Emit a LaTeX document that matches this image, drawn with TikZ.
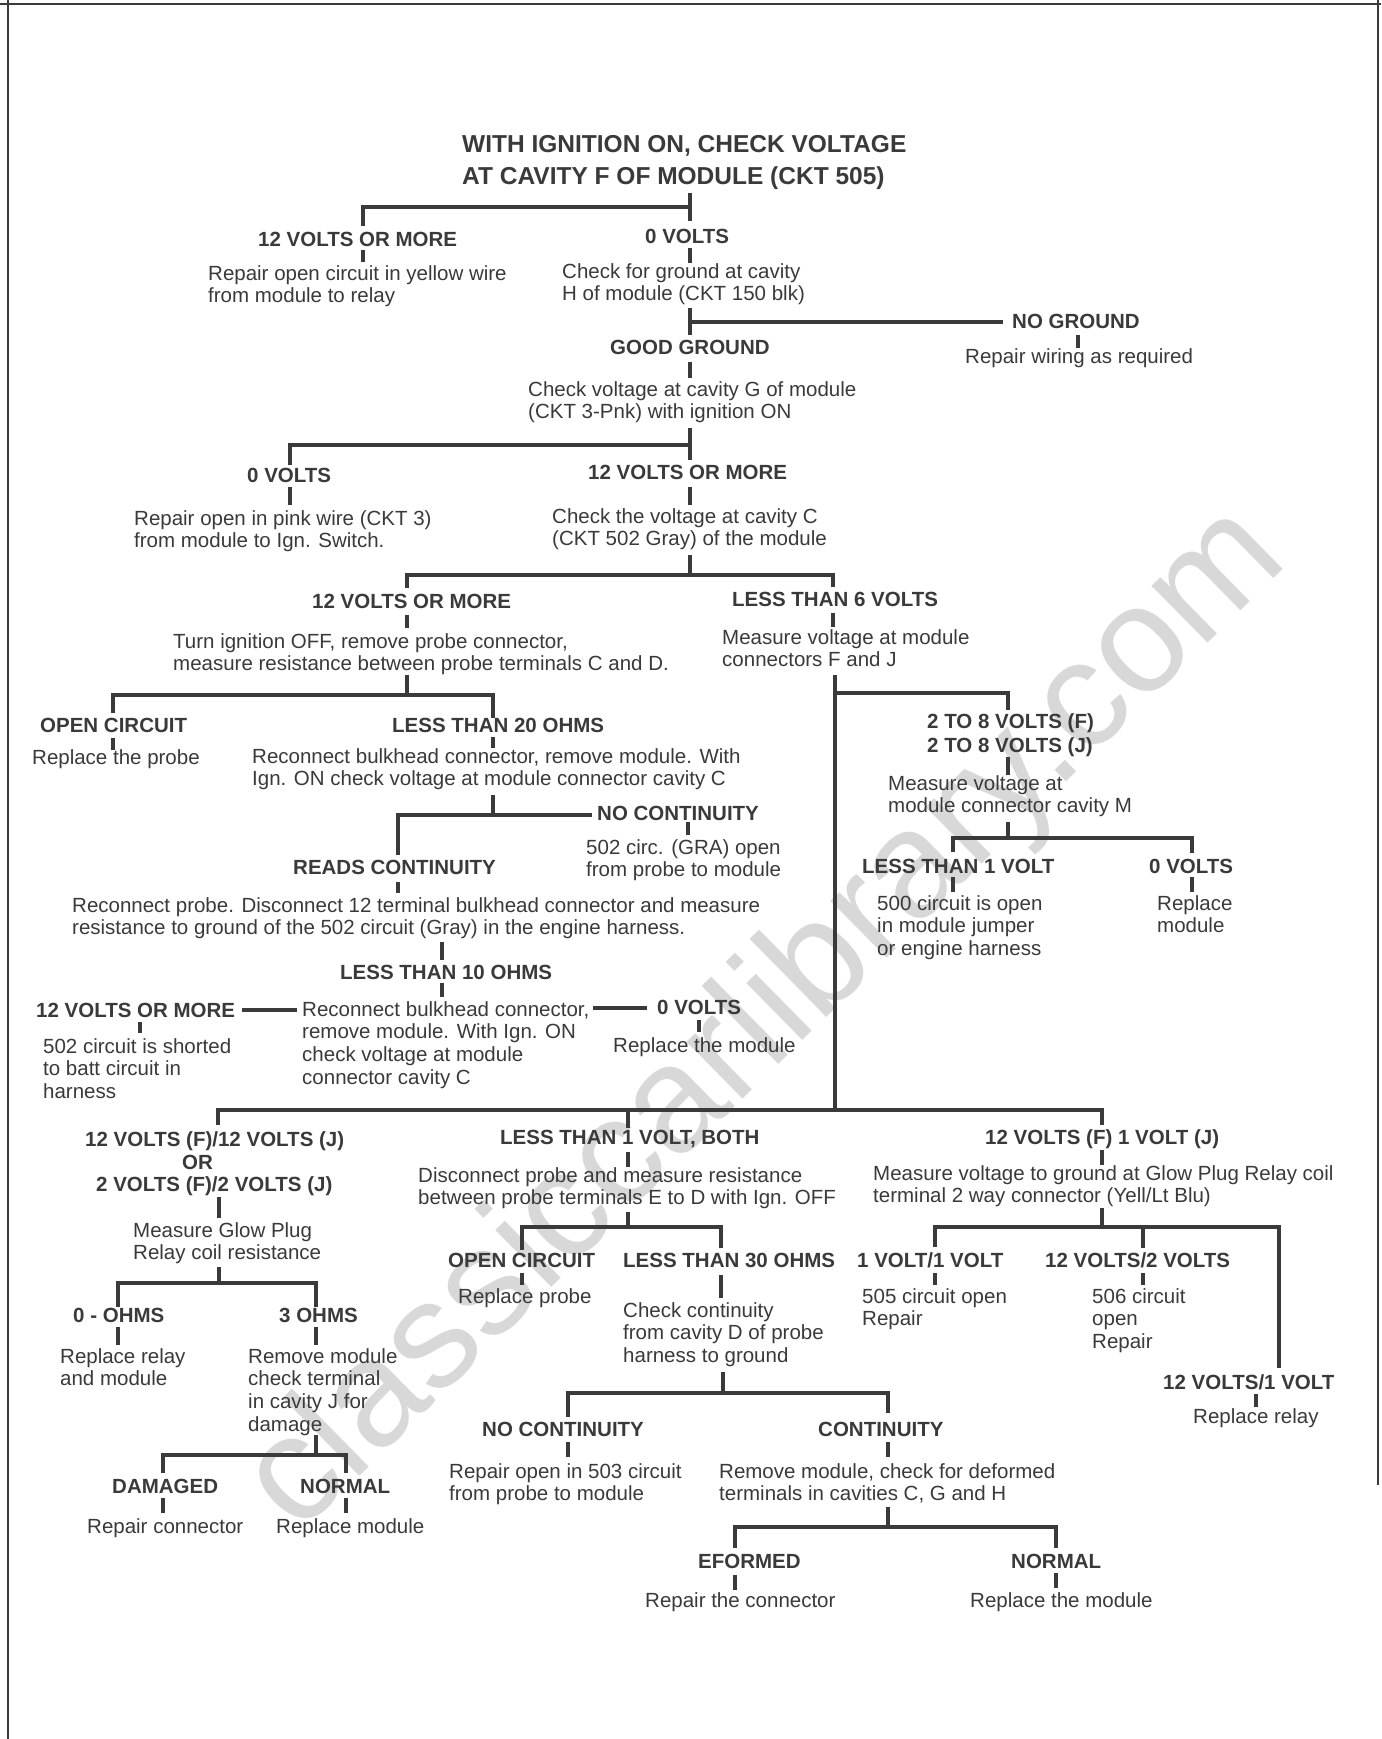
\documentclass[tikz,border=0pt]{standalone}
\usepackage{fontspec}
\setmainfont{Liberation Sans}
\definecolor{ink}{HTML}{3A3A3A}
\definecolor{wm}{HTML}{D8D8D8}
\newcommand\bodyf{\fontsize{20.5}{22.7}\selectfont}
\newcommand\lblf{\fontsize{20.5}{22.7}\selectfont\bfseries}
\newcommand\titf{\fontsize{24.5}{32}\selectfont\bfseries}
\begin{document}
\begin{tikzpicture}[x=1pt,y=-1pt,
  ln/.style={draw=ink, line width=3.4pt},
  bd/.style={draw=ink, line width=2.5pt},
  tx/.style={text=ink, font=\bodyf, align=left, inner sep=0pt, anchor=north west, yshift=15.89pt},
  lb/.style={text=ink, font=\lblf, inner sep=0pt, anchor=base west},
  tt/.style={text=ink, font=\titf, inner sep=0pt, anchor=base west}]
\useasboundingbox (0,0) rectangle (1381,1739);
\fill[white] (0,0) rectangle (1381,1739);
% watermark
\node[text=wm, rotate=44.5, inner sep=0pt, font=\fontsize{151}{151}\selectfont] (wmk) at (767,1021) {classiccarlibrary.com};
% border
\draw[bd] (8,0) -- (8,1739);
\draw[bd] (1378,0) -- (1378,1485);
\draw[bd] (0,4) -- (1381,4);
% title
\node[tt] (t1) at (462,153) {WITH IGNITION ON, CHECK VOLTAGE};
\node[tt] (t2) at (462,185) {AT CAVITY F OF MODULE (CKT 505)};
% labels
\node[lb] (L1) at (258,246) {12 VOLTS OR MORE};
\node[lb] (L2) at (645,243) {0 VOLTS};
\node[lb] (L3) at (1012,328) {NO GROUND};
\node[lb] (L4) at (610,354) {GOOD GROUND};
\node[lb] (L5) at (247,482) {0 VOLTS};
\node[lb] (L6) at (588,479) {12 VOLTS OR MORE};
\node[lb] (L7) at (312,608) {12 VOLTS OR MORE};
\node[lb] (L8) at (732,606) {LESS THAN 6 VOLTS};
\node[lb] (L9) at (40,732) {OPEN CIRCUIT};
\node[lb] (L10) at (392,732) {LESS THAN 20 OHMS};
\node[lb] (L11a) at (927,728) {2 TO 8 VOLTS (F)};
\node[lb] (L11b) at (927,752) {2 TO 8 VOLTS (J)};
\node[lb] (L12) at (597,820) {NO CONTINUITY};
\node[lb] (L13) at (293,874) {READS CONTINUITY};
\node[lb] (L14) at (862,873) {LESS THAN 1 VOLT};
\node[lb] (L15) at (1149,873) {0 VOLTS};
\node[lb] (L16) at (340,979) {LESS THAN 10 OHMS};
\node[lb] (L17) at (36,1017) {12 VOLTS OR MORE};
\node[lb] (L18) at (657,1014) {0 VOLTS};
\node[lb] (L19a) at (85,1146) {12 VOLTS (F)/12 VOLTS (J)};
\node[lb] (L19b) at (182,1169) {OR};
\node[lb] (L19c) at (96,1191) {2 VOLTS (F)/2 VOLTS (J)};
\node[lb] (L20) at (500,1144) {LESS THAN 1 VOLT, BOTH};
\node[lb] (L21) at (985,1144) {12 VOLTS (F) 1 VOLT (J)};
\node[lb] (L22) at (448,1267) {OPEN CIRCUIT};
\node[lb] (L23) at (623,1267) {LESS THAN 30 OHMS};
\node[lb] (L24) at (857,1267) {1 VOLT/1 VOLT};
\node[lb] (L25) at (1045,1267) {12 VOLTS/2 VOLTS};
\node[lb] (L26) at (73,1322) {0 - OHMS};
\node[lb] (L27) at (279,1322) {3 OHMS};
\node[lb] (L28) at (1163,1389) {12 VOLTS/1 VOLT};
\node[lb] (L29) at (482,1436) {NO CONTINUITY};
\node[lb] (L30) at (818,1436) {CONTINUITY};
\node[lb] (L31) at (112,1493) {DAMAGED};
\node[lb] (L32) at (300,1493) {NORMAL};
\node[lb] (L33) at (698,1568) {EFORMED};
\node[lb] (L34) at (1011,1568) {NORMAL};
% descriptions
\node[tx] (D1) at (208,280) {\strut Repair open circuit in yellow wire\\from module to relay};
\node[tx] (D2) at (562,278) {\strut Check for ground at cavity\\H of module (CKT 150 blk)};
\node[tx] (D3) at (965,363) {\strut Repair wiring as required};
\node[tx] (D4) at (528,396) {\strut Check voltage at cavity G of module\\(CKT 3-Pnk) with ignition ON};
\node[tx] (D5) at (134,525) {\strut Repair open in pink wire (CKT 3)\\from module to Ign. Switch.};
\node[tx] (D6) at (552,523) {\strut Check the voltage at cavity C\\(CKT 502 Gray) of the module};
\node[tx] (D7) at (173,648) {\strut Turn ignition OFF, remove probe connector,\\measure resistance between probe terminals C and D.};
\node[tx] (D8) at (722,644) {\strut Measure voltage at module\\connectors F and J};
\node[tx] (D9) at (32,764) {\strut Replace the probe};
\node[tx] (D10) at (252,763) {\strut Reconnect bulkhead connector, remove module. With\\Ign. ON check voltage at module connector cavity C};
\node[tx] (D11) at (888,790) {\strut Measure voltage at\\module connector cavity M};
\node[tx] (D12) at (586,854) {\strut 502 circ. (GRA) open\\from probe to module};
\node[tx] (D13) at (72,912) {\strut Reconnect probe. Disconnect 12 terminal bulkhead connector and measure\\resistance to ground of the 502 circuit (Gray) in the engine harness.};
\node[tx] (D14) at (877,910) {\strut 500 circuit is open\\in module jumper\\or engine harness};
\node[tx] (D15) at (1157,910) {\strut Replace\\module};
\node[tx] (D16) at (43,1053) {\strut 502 circuit is shorted\\to batt circuit in\\harness};
\node[tx] (D17) at (302,1016) {\strut Reconnect bulkhead connector,\\remove module. With Ign. ON\\check voltage at module\\connector cavity C};
\node[tx] (D18) at (613,1052) {\strut Replace the module};
\node[tx] (D19) at (133,1237) {\strut Measure Glow Plug\\Relay coil resistance};
\node[tx] (D20) at (418,1182) {\strut Disconnect probe and measure resistance\\between probe terminals E to D with Ign. OFF};
\node[tx] (D21) at (873,1180) {\strut Measure voltage to ground at Glow Plug Relay coil\\terminal 2 way connector (Yell/Lt Blu)};
\node[tx] (D22) at (458,1303) {\strut Replace probe};
\node[tx] (D23) at (623,1317) {\strut Check continuity\\from cavity D of probe\\harness to ground};
\node[tx] (D24) at (862,1303) {\strut 505 circuit open\\Repair};
\node[tx] (D25) at (1092,1303) {\strut 506 circuit\\open\\Repair};
\node[tx] (D26) at (60,1363) {\strut Replace relay\\and module};
\node[tx] (D27) at (248,1363) {\strut Remove module\\check terminal\\in cavity J for\\damage};
\node[tx] (D28) at (1193,1423) {\strut Replace relay};
\node[tx] (D29) at (449,1478) {\strut Repair open in 503 circuit\\from probe to module};
\node[tx] (D30) at (719,1478) {\strut Remove module, check for deformed\\terminals in cavities C, G and H};
\node[tx] (D31) at (87,1533) {\strut Repair connector};
\node[tx] (D32) at (276,1533) {\strut Replace module};
\node[tx] (D33) at (645,1607) {\strut Repair the connector};
\node[tx] (D34) at (970,1607) {\strut Replace the module};
% connectors
\draw[ln] (363,226) -- (363,207) -- (690,207);
\draw[ln] (690,193) -- (690,221);
\draw[ln] (363,250) -- (363,262);
\draw[ln] (690,248) -- (690,263);
\draw[ln] (690,308) -- (690,335);
\draw[ln] (690,322) -- (1003,322);
\draw[ln] (1078,335) -- (1078,348);
\draw[ln] (690,362) -- (690,378);
\draw[ln] (690,428) -- (690,460);
\draw[ln] (290,465) -- (290,445) -- (690,445);
\draw[ln] (290,487) -- (290,505);
\draw[ln] (690,487) -- (690,505);
\draw[ln] (690,555) -- (690,575);
\draw[ln] (407,588) -- (407,575) -- (833,575) -- (833,587);
\draw[ln] (407,615) -- (407,628);
\draw[ln] (833,613) -- (833,627);
\draw[ln] (407,675) -- (407,695);
\draw[ln] (113,713) -- (113,695) -- (493,695) -- (493,718);
\draw[ln] (113,738) -- (113,750);
\draw[ln] (493,737) -- (493,748);
\draw[ln] (493,795) -- (493,815);
\draw[ln] (398,855) -- (398,815) -- (592,815);
\draw[ln] (688,822) -- (688,835);
\draw[ln] (398,882) -- (398,893);
\draw[ln] (442,942) -- (442,960);
\draw[ln] (442,983) -- (442,997);
\draw[ln] (242,1010) -- (297,1010);
\draw[ln] (593,1008) -- (647,1008);
\draw[ln] (140,1022) -- (140,1033);
\draw[ln] (699,1020) -- (699,1032);
\draw[ln] (835,675) -- (835,1110);
\draw[ln] (835,693) -- (1008,693) -- (1008,710);
\draw[ln] (1008,757) -- (1008,775);
\draw[ln] (1008,822) -- (1008,838);
\draw[ln] (953,852) -- (953,838) -- (1192,838) -- (1192,853);
\draw[ln] (953,877) -- (953,892);
\draw[ln] (1192,877) -- (1192,892);
\draw[ln] (218,1125) -- (218,1110) -- (1102,1110) -- (1102,1125);
\draw[ln] (628,1110) -- (628,1128);
\draw[ln] (219,1197) -- (219,1218);
\draw[ln] (628,1152) -- (628,1167);
\draw[ln] (1102,1150) -- (1102,1165);
\draw[ln] (219,1267) -- (219,1283);
\draw[ln] (118,1307) -- (118,1283) -- (316,1283) -- (316,1307);
\draw[ln] (118,1327) -- (118,1345);
\draw[ln] (316,1327) -- (316,1345);
\draw[ln] (316,1435) -- (316,1455);
\draw[ln] (163,1473) -- (163,1455) -- (346,1455) -- (346,1473);
\draw[ln] (163,1498) -- (163,1513);
\draw[ln] (346,1498) -- (346,1513);
\draw[ln] (628,1212) -- (628,1227);
\draw[ln] (522,1250) -- (522,1227) -- (721,1227) -- (721,1248);
\draw[ln] (522,1273) -- (522,1285);
\draw[ln] (721,1275) -- (721,1298);
\draw[ln] (723,1372) -- (723,1393);
\draw[ln] (568,1417) -- (568,1393) -- (888,1393) -- (888,1413);
\draw[ln] (568,1442) -- (568,1457);
\draw[ln] (888,1442) -- (888,1457);
\draw[ln] (888,1507) -- (888,1527);
\draw[ln] (735,1548) -- (735,1527) -- (1056,1527) -- (1056,1548);
\draw[ln] (735,1575) -- (735,1590);
\draw[ln] (1056,1573) -- (1056,1588);
\draw[ln] (1102,1208) -- (1102,1227);
\draw[ln] (935,1247) -- (935,1227) -- (1279,1227) -- (1279,1368);
\draw[ln] (1143,1227) -- (1143,1248);
\draw[ln] (935,1273) -- (935,1285);
\draw[ln] (1143,1273) -- (1143,1285);
\draw[ln] (1256,1394) -- (1256,1407);
\end{tikzpicture}
\end{document}
